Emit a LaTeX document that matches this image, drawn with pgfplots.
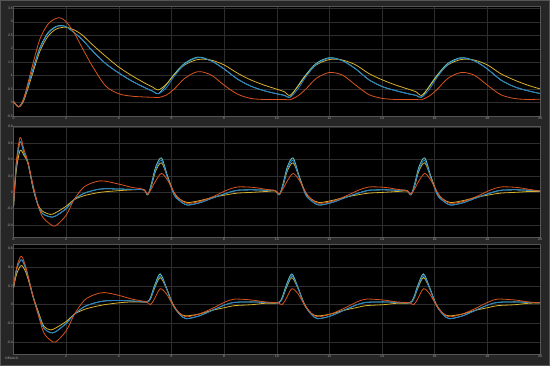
\documentclass[border=0pt]{standalone}
\usepackage{pgfplots}
\pgfplotsset{compat=1.18}
\usepackage{pgfplotstable}
\usepackage{fontspec}
\setmainfont{Liberation Sans}
\definecolor{bgout}{HTML}{262626}
\definecolor{gridc}{HTML}{2E2E2E}
\definecolor{framec}{HTML}{555555}
\definecolor{tickc}{HTML}{A8A8A8}
\definecolor{sblue}{HTML}{2A7FC4}
\definecolor{sred}{HTML}{D9541E}
\definecolor{syellow}{HTML}{D8B22A}
\definecolor{scyan}{HTML}{62CBC8}

\pgfplotstableread{
x b r y c
0 0.05 0.05 0.05 0.05
0.2 -0.15 -0.15 -0.16 -0.15
0.4 0.15 0.2 0.1 0.16
0.7 1.1 1.3 1.0 1.13
1.0 2.0 2.35 1.9 2.03
1.3 2.55 2.9 2.45 2.58
1.6 2.8 3.12 2.72 2.82
1.8 2.85 3.14 2.78 2.86
2.0 2.82 3.0 2.8 2.82
2.3 2.6 2.6 2.7 2.6
2.6 2.35 2.05 2.52 2.35
3.0 1.92 1.35 2.15 1.92
3.5 1.45 0.62 1.72 1.45
4.0 1.1 0.33 1.32 1.1
4.5 0.8 0.24 1.0 0.8
5.0 0.55 0.21 0.72 0.55
5.3 0.42 0.2 0.57 0.42
5.5 0.33 0.19 0.47 0.33
5.8 0.55 0.28 0.68 0.66
6.1 0.97 0.5 1.03 1.05
6.5 1.42 0.9 1.4 1.46
7.0 1.67 1.15 1.6 1.69
7.5 1.55 1.03 1.58 1.56
8.0 1.25 0.65 1.4 1.25
8.5 0.88 0.32 1.1 0.88
9.0 0.62 0.16 0.85 0.62
9.5 0.45 0.12 0.66 0.45
10.0 0.33 0.12 0.5 0.33
10.3 0.27 0.12 0.4 0.27
10.5 0.2 0.11 0.27 0.2
10.8 0.5 0.25 0.6 0.62
11.1 0.95 0.5 1.0 1.03
11.5 1.42 0.9 1.4 1.46
12.0 1.65 1.12 1.6 1.67
12.5 1.55 1.02 1.58 1.56
13.0 1.25 0.65 1.4 1.25
13.5 0.85 0.3 1.08 0.85
14.0 0.6 0.16 0.85 0.6
14.5 0.45 0.12 0.66 0.45
15.0 0.33 0.12 0.5 0.33
15.3 0.27 0.12 0.4 0.27
15.5 0.2 0.11 0.27 0.2
15.8 0.5 0.25 0.6 0.62
16.1 0.95 0.5 1.0 1.03
16.5 1.42 0.9 1.4 1.46
17.0 1.65 1.12 1.6 1.67
17.5 1.55 1.02 1.58 1.56
18.0 1.25 0.65 1.4 1.25
18.5 0.85 0.3 1.08 0.85
19.0 0.6 0.16 0.85 0.6
19.5 0.45 0.12 0.66 0.45
20.0 0.34 0.13 0.51 0.34
}\tabA

\pgfplotstableread{
x b r y c
0 -0.18 -0.18 -0.18 -0.18
0.1 0.3 0.35 0.25 0.3
0.25 0.62 0.67 0.51 0.62
0.4 0.48 0.52 0.45 0.48
0.55 0.36 0.37 0.35 0.36
0.75 0.05 0.08 0.04 0.05
0.93 -0.16 -0.15 -0.15 -0.16
1.1 -0.26 -0.3 -0.23 -0.26
1.4 -0.3 -0.39 -0.27 -0.3
1.6 -0.29 -0.41 -0.25 -0.29
2.0 -0.2 -0.28 -0.17 -0.2
2.3 -0.09 -0.09 -0.09 -0.09
2.7 -0.01 0.07 -0.04 -0.01
3.3 0.04 0.14 0.0 0.04
4.0 0.04 0.1 0.02 0.04
4.5 0.035 0.06 0.03 0.035
4.95 0.03 0.035 0.03 0.03
5.1 -0.03 -0.02 -0.03 -0.03
5.25 0.1 0.05 0.09 0.12
5.4 0.28 0.14 0.26 0.31
5.62 0.39 0.23 0.36 0.42
5.85 0.18 0.15 0.19 0.2
6.1 -0.03 0.0 -0.01 -0.03
6.3 -0.1 -0.08 -0.08 -0.1
6.6 -0.155 -0.135 -0.125 -0.155
7.1 -0.125 -0.11 -0.1 -0.125
7.6 -0.065 -0.05 -0.06 -0.065
8.1 -0.01 0.025 -0.03 -0.01
8.5 0.025 0.065 -0.01 0.025
9.1 0.03 0.06 0.0 0.03
9.6 0.025 0.035 0.01 0.025
9.95 0.02 0.02 0.015 0.02
10.1 -0.03 -0.02 -0.03 -0.03
10.25 0.1 0.05 0.09 0.12
10.4 0.28 0.14 0.26 0.31
10.62 0.39 0.23 0.36 0.42
10.85 0.18 0.15 0.19 0.2
11.1 -0.03 0.0 -0.01 -0.03
11.3 -0.1 -0.08 -0.08 -0.1
11.6 -0.155 -0.135 -0.125 -0.155
12.1 -0.125 -0.11 -0.1 -0.125
12.6 -0.065 -0.05 -0.06 -0.065
13.1 -0.01 0.025 -0.03 -0.01
13.5 0.025 0.065 -0.01 0.025
14.1 0.03 0.06 0.0 0.03
14.6 0.025 0.035 0.01 0.025
14.95 0.02 0.02 0.015 0.02
15.1 -0.03 -0.02 -0.03 -0.03
15.25 0.1 0.05 0.09 0.12
15.4 0.28 0.14 0.26 0.31
15.62 0.39 0.23 0.36 0.42
15.85 0.18 0.15 0.19 0.2
16.1 -0.03 0.0 -0.01 -0.03
16.3 -0.1 -0.08 -0.08 -0.1
16.6 -0.155 -0.135 -0.125 -0.155
17.1 -0.125 -0.11 -0.1 -0.125
17.6 -0.065 -0.05 -0.06 -0.065
18.1 -0.01 0.025 -0.03 -0.01
18.5 0.025 0.065 -0.01 0.025
19.1 0.03 0.06 0.0 0.03
19.6 0.025 0.035 0.01 0.025
20.0 0.015 0.015 0.01 0.015
}\tabB

\pgfplotstableread{
x b r y c
0 0.18 0.18 0.18 0.18
0.12 0.38 0.4 0.33 0.38
0.29 0.48 0.52 0.42 0.48
0.45 0.4 0.42 0.36 0.4
0.6 0.25 0.25 0.23 0.25
0.75 0.08 0.08 0.08 0.08
0.95 -0.1 -0.12 -0.08 -0.1
1.15 -0.25 -0.3 -0.23 -0.25
1.4 -0.3 -0.38 -0.27 -0.3
1.6 -0.29 -0.4 -0.25 -0.29
2.0 -0.2 -0.28 -0.18 -0.2
2.32 -0.1 -0.1 -0.1 -0.1
2.7 -0.02 0.05 -0.05 -0.02
3.1 0.02 0.11 -0.02 0.02
3.45 0.04 0.13 0.0 0.04
4.0 0.045 0.1 0.02 0.045
4.5 0.04 0.06 0.03 0.04
5.05 0.03 0.03 0.03 0.03
5.2 0.06 0.0 0.06 0.075
5.35 0.18 0.06 0.17 0.2
5.57 0.31 0.17 0.29 0.33
5.8 0.18 0.12 0.18 0.19
6.05 0.0 0.0 0.01 0.0
6.3 -0.1 -0.09 -0.09 -0.1
6.55 -0.15 -0.13 -0.12 -0.15
7.05 -0.12 -0.1 -0.1 -0.12
7.55 -0.06 -0.04 -0.06 -0.06
8.05 0.0 0.03 -0.03 0.0
8.4 0.025 0.06 -0.01 0.025
9.05 0.03 0.05 0.0 0.03
9.55 0.025 0.03 0.015 0.025
10.05 0.02 0.02 0.02 0.02
10.2 0.06 0.0 0.06 0.075
10.35 0.18 0.06 0.17 0.2
10.57 0.31 0.17 0.29 0.33
10.8 0.18 0.12 0.18 0.19
11.05 0.0 0.0 0.01 0.0
11.3 -0.1 -0.09 -0.09 -0.1
11.55 -0.15 -0.13 -0.12 -0.15
12.05 -0.12 -0.1 -0.1 -0.12
12.55 -0.06 -0.04 -0.06 -0.06
13.05 0.0 0.03 -0.03 0.0
13.4 0.025 0.06 -0.01 0.025
14.05 0.03 0.05 0.0 0.03
14.55 0.025 0.03 0.015 0.025
15.05 0.02 0.02 0.02 0.02
15.2 0.06 0.0 0.06 0.075
15.35 0.18 0.06 0.17 0.2
15.57 0.31 0.17 0.29 0.33
15.8 0.18 0.12 0.18 0.19
16.05 0.0 0.0 0.01 0.0
16.3 -0.1 -0.09 -0.09 -0.1
16.55 -0.15 -0.13 -0.12 -0.15
17.05 -0.12 -0.1 -0.1 -0.12
17.55 -0.06 -0.04 -0.06 -0.06
18.05 0.0 0.03 -0.03 0.0
18.4 0.025 0.06 -0.01 0.025
19.05 0.03 0.05 0.0 0.03
19.55 0.025 0.03 0.015 0.025
20.0 0.02 0.02 0.02 0.02
}\tabC

\pgfplotsset{
  scope/.style={
    scale only axis, width=526.5bp,
    anchor=north west,
    xmin=0, xmax=20, xtick={0,2,...,20},
    axis background/.style={fill=black},
    grid=major, major grid style={color=gridc, line width=0.5bp},
    axis line style={color=framec, line width=0.5bp},
    major tick length=0pt,
    /pgf/number format/assume math mode=true,
    ticklabel style={font=\fontsize{3.4}{4}\selectfont, text=tickc, inner sep=0.5bp},
    yticklabel style={/pgf/number format/fixed},
    every axis plot/.append style={line width=0.8bp, smooth, tension=0.5},
  }
}

\begin{document}
\begin{tikzpicture}[x=1bp,y=1bp]
\fill[bgout] (0,0) rectangle (550,366);
\draw[color=framec, line width=0.8bp] (0.4,0.4) rectangle (549.6,365.6);
\useasboundingbox (0,0) rectangle (550,366);

\begin{axis}[scope, at={(13.5bp,359.3bp)}, height=110bp,
  ymin=-0.52, ymax=3.56, ytick={-0.5,0,0.5,...,3.5}]
\addplot[scyan] table[x=x,y=c]{\tabA};
\addplot[syellow] table[x=x,y=y]{\tabA};
\addplot[sblue] table[x=x,y=b]{\tabA};
\addplot[sred] table[x=x,y=r]{\tabA};
\end{axis}

\begin{axis}[scope, at={(13.5bp,240bp)}, height=111.3bp,
  ymin=-0.55, ymax=0.81, ytick={-0.4,-0.2,0,0.2,0.4,0.6,0.8}]
\addplot[scyan] table[x=x,y=c]{\tabB};
\addplot[syellow] table[x=x,y=y]{\tabB};
\addplot[sblue] table[x=x,y=b]{\tabB};
\addplot[sred] table[x=x,y=r]{\tabB};
\end{axis}

\begin{axis}[scope, at={(13.5bp,121.3bp)}, height=110bp,
  ymin=-0.536, ymax=0.643, ytick={-0.4,-0.2,0,0.2,0.4,0.6},
  xticklabels={,2,4,6,8,10,12,14,16,18,20}]
\addplot[scyan] table[x=x,y=c]{\tabC};
\addplot[syellow] table[x=x,y=y]{\tabC};
\addplot[sblue] table[x=x,y=b]{\tabC};
\addplot[sred] table[x=x,y=r]{\tabC};
\end{axis}

\node[anchor=west, font=\fontsize{3.4}{4}\selectfont, text=tickc, inner sep=0pt] at (5bp,7.5bp) {Offset=0};
\end{tikzpicture}
\end{document}
